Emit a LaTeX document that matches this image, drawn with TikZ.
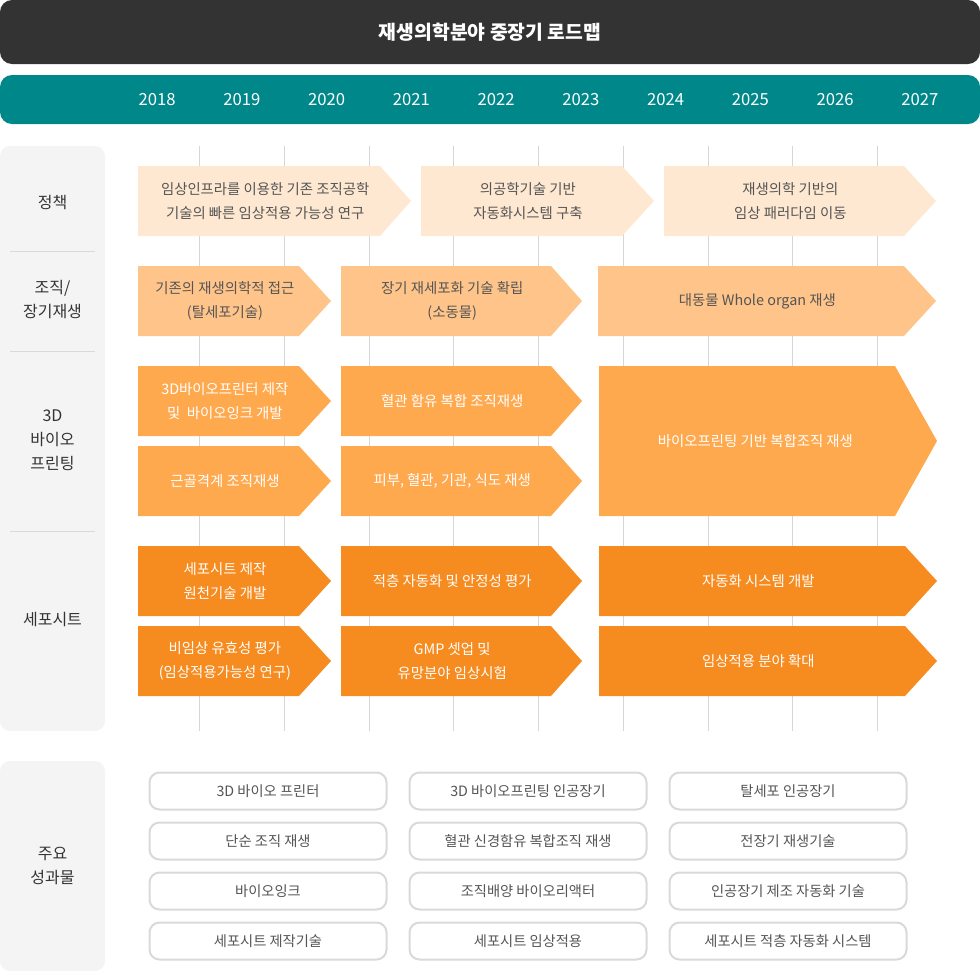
\documentclass[tikz,border=0pt]{standalone}
\usepackage{fontspec}
\setmainfont{Noto Sans CJK KR}
\usepackage{xcolor}
\usepackage{tikz}
\definecolor{rmDark}{HTML}{333333}
\definecolor{rmTeal}{HTML}{00878A}
\definecolor{rmSide}{HTML}{F4F4F4}
\definecolor{rmGrid}{HTML}{D6D6D6}
\definecolor{rmPale}{HTML}{FEE8D1}
\definecolor{rmLight}{HTML}{FFC489}
\definecolor{rmMid}{HTML}{FFA94F}
\definecolor{rmDeep}{HTML}{F68B1F}
\definecolor{rmInk}{HTML}{555555}
\definecolor{rmLine}{HTML}{D9D9D9}

% chevron: name, style, left, body end, tip, top, bottom, text
\newcommand{\chev}[8]{%
  \fill[#2] (#3,#6) -- (#4,#6) -- (#5,{(#6+#7)/2}) -- (#4,#7) -- (#3,#7) -- cycle;
  \node[chevtext, #2, fill=none] (#1) at ({(#3+#4)/2+(#5-#4)/5},{(#6+#7)/2}) {#8};
}

\begin{document}
\begin{tikzpicture}[
  x=0.75pt, y=-0.75pt,
  chevtext/.style={align=center, inner sep=0pt,
                   font=\fontsize{10.8pt}{18pt}\selectfont},
  pale/.style={fill=rmPale, text=rmInk},
  light/.style={fill=rmLight, text=rmInk},
  mid/.style={fill=rmMid, text=white},
  deep/.style={fill=rmDeep, text=white},
  year/.style={text=white, font=\fontsize{12.5pt}{15pt}\selectfont},
  side/.style={fill=rmSide, rounded corners=7.5pt},
  sidelab/.style={align=center, text=rmDark, inner sep=0pt,
                  font=\fontsize{12pt}{18pt}\selectfont},
  sep/.style={draw=rmLine, line width=0.75pt},
  grid/.style={draw=rmGrid, line width=0.75pt},
  result/.style={draw=rmLine, line width=1.5pt, fill=white, rounded corners=7.5pt,
                 minimum width=177.75pt, minimum height=27.75pt, inner sep=0pt,
                 text=rmInk, font=\fontsize{10.7pt}{12pt}\selectfont}
]
  \useasboundingbox (0,0) rectangle (980,971);

  % header bars
  \fill[rmDark, rounded corners=9pt] (0,0) rectangle (980,64);
  \node[text=white, font=\fontsize{14.5pt}{17pt}\selectfont\bfseries] (title) at (490,32) {재생의학분야 중장기 로드맵};
  \fill[rmTeal, rounded corners=9pt] (0,75) rectangle (980,124);
  \foreach \yr [count=\i from 0] in {2018,2019,...,2027}
    \node[year] (y\yr) at (157+84.75*\i,100) {\yr};

  % side column
  \fill[side] (0,146) rectangle (105,731);
  \fill[side] (0,761) rectangle (105,971);
  \foreach \yy in {251,351,531}
    \draw[sep] (10,\yy) -- (95,\yy);
  \node[sidelab] (lpolicy) at (52.5,203) {정책};
  \node[sidelab] (lorgan) at (52.5,300) {조직/\\장기재생};
  \node[sidelab] (lprint) at (52.5,440) {3D\\바이오\\프린팅};
  \node[sidelab] (lsheet) at (52.5,620) {세포시트};
  \node[sidelab] (lresult) at (52.5,866) {주요\\성과물};

  % year grid
  \foreach \i in {0,...,8}
    \draw[grid] (199.5+84.75*\i,146) -- (199.5+84.75*\i,731);

  % policy
  \chev{p1}{pale}{138}{380}{411}{166}{236}{임상인프라를 이용한 기존 조직공학\\기술의 빠른 임상적용 가능성 연구}
  \chev{p2}{pale}{421}{622}{654}{166}{236}{의공학기술 기반\\자동화시스템 구축}
  \chev{p3}{pale}{664}{904}{936}{166}{236}{재생의학 기반의\\임상 패러다임 이동}

  % tissue / organ
  \chev{o1}{light}{138}{299}{331}{266}{336}{기존의 재생의학적 접근\\(탈세포기술)}
  \chev{o2}{light}{341}{551}{582}{266}{336}{장기 재세포화 기술 확립\\(소동물)}
  \chev{o3}{light}{598}{904}{936}{266}{336}{대동물 Whole organ 재생}

  % 3D bioprinting
  \chev{b1}{mid}{138}{299}{331}{366}{436}{3D바이오프린터 제작\\및\ \ 바이오잉크 개발}
  \chev{b2}{mid}{138}{299}{331}{446}{516}{근골격계 조직재생}
  \chev{b3}{mid}{341}{551}{582}{366}{436}{혈관 함유 복합 조직재생}
  \chev{b4}{mid}{341}{551}{582}{446}{516}{피부, 혈관, 기관, 식도 재생}
  \chev{b5}{mid}{599}{895}{937}{366}{516}{바이오프린팅 기반 복합조직 재생}

  % cell sheet
  \chev{c1}{deep}{138}{299}{331}{546}{616}{세포시트 제작\\원천기술 개발}
  \chev{c2}{deep}{138}{299}{331}{626}{696}{비임상 유효성 평가\\(임상적용가능성 연구)}
  \chev{c3}{deep}{341}{551}{582}{546}{616}{적층 자동화 및 안정성 평가}
  \chev{c4}{deep}{341}{551}{582}{626}{696}{GMP 셋업 및\\유망분야 임상시험}
  \chev{c5}{deep}{599}{905}{937}{546}{616}{자동화 시스템 개발}
  \chev{c6}{deep}{599}{905}{937}{626}{696}{임상적용 분야 확대}

  % main results
  \node[result] (r11) at (268,791) {3D 바이오 프린터};
  \node[result] (r12) at (268,841) {단순 조직 재생};
  \node[result] (r13) at (268,891) {바이오잉크};
  \node[result] (r14) at (268,941) {세포시트 제작기술};
  \node[result] (r21) at (528,791) {3D 바이오프린팅 인공장기};
  \node[result] (r22) at (528,841) {혈관 신경함유 복합조직 재생};
  \node[result] (r23) at (528,891) {조직배양 바이오리액터};
  \node[result] (r24) at (528,941) {세포시트 임상적용};
  \node[result] (r31) at (788,791) {탈세포 인공장기};
  \node[result] (r32) at (788,841) {전장기 재생기술};
  \node[result] (r33) at (788,891) {인공장기 제조 자동화 기술};
  \node[result] (r34) at (788,941) {세포시트 적층 자동화 시스템};
\end{tikzpicture}
\end{document}
